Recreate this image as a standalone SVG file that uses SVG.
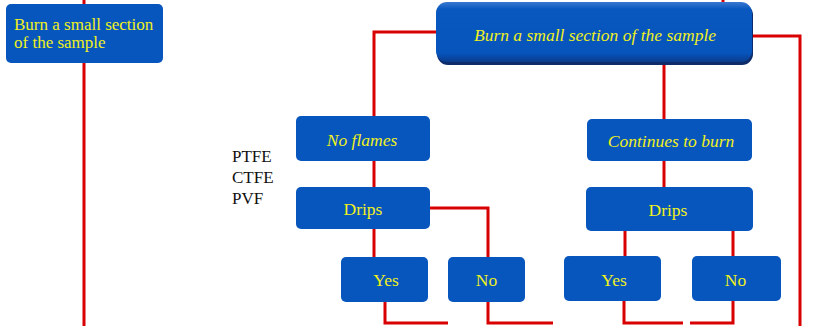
<svg xmlns="http://www.w3.org/2000/svg" width="836" height="326" viewBox="0 0 836 326">
<defs>
<linearGradient id="mainGrad" x1="0" y1="0" x2="0" y2="1">
<stop offset="0" stop-color="#3a78d0"/>
<stop offset="0.12" stop-color="#0858c0"/>
<stop offset="0.85" stop-color="#0654bc"/>
<stop offset="1" stop-color="#0a3c8c"/>
</linearGradient>
</defs>
<style>
.box{fill:#0756be;}
.t{font-family:"Liberation Serif","Times New Roman",serif;font-size:17.5px;fill:#f0f020;}
.s{font-size:17px;}
.i{font-style:italic;}
.c{text-anchor:middle;}
.k{font-family:"Liberation Serif","Times New Roman",serif;font-size:17px;fill:#111111;}
.ln{fill:none;stroke:#d80000;stroke-width:3;}
</style>
<rect width="836" height="326" fill="#ffffff"/>
<g id="connectors">
<path class="ln" d="M84,0 V326"/>
<path class="ln" d="M723,0 V4"/>
<path class="ln" d="M437,32 H374 V117"/>
<path class="ln" d="M751,36 H800 V326"/>
<path class="ln" d="M664,63 V120"/>
<path class="ln" d="M374,160 V188"/>
<path class="ln" d="M374,228 V258"/>
<path class="ln" d="M429,208 H488 V258"/>
<path class="ln" d="M385,301 V323 H448"/>
<path class="ln" d="M488,301 V323 H553"/>
<path class="ln" d="M664,160 V188"/>
<path class="ln" d="M625,230 V257"/>
<path class="ln" d="M733,230 V257"/>
<path class="ln" d="M624,300 V323 H683"/>
<path class="ln" d="M733,300 V323 H690"/>
</g>
<g id="node-left-burn">
<rect class="box" x="6" y="4" width="157" height="59" rx="5"/>
<text class="t s" x="14" y="30">Burn a small section</text>
<text class="t s" x="14" y="48">of the sample</text>
</g>
<g id="node-main-burn">
<rect x="437" y="4" width="316" height="61" rx="11" fill="#0e2c6a"/>
<rect x="436" y="2" width="316" height="60" rx="11" fill="url(#mainGrad)"/>
<text class="t i c" x="595" y="41">Burn a small section of the sample</text>
</g>
<g id="node-no-flames">
<rect class="box" x="296" y="116" width="134" height="45" rx="5"/>
<text class="t i c" x="362" y="146">No flames</text>
</g>
<g id="label-polymers">
<text class="k" x="232" y="162">PTFE</text>
<text class="k" x="232" y="183">CTFE</text>
<text class="k" x="232" y="204">PVF</text>
</g>
<g id="node-drips-left">
<rect class="box" x="296" y="187" width="134" height="42" rx="5"/>
<text class="t c" x="363" y="215">Drips</text>
</g>
<g id="node-yes-left">
<rect class="box" x="341" y="257" width="87" height="45" rx="5"/>
<text class="t c" x="386" y="286">Yes</text>
</g>
<g id="node-no-left">
<rect class="box" x="448" y="257" width="77" height="45" rx="5"/>
<text class="t c" x="486.5" y="286">No</text>
</g>
<g id="node-continues">
<rect class="box" x="587" y="119" width="165" height="42" rx="5"/>
<text class="t i c" x="671" y="147">Continues to burn</text>
</g>
<g id="node-drips-right">
<rect class="box" x="586" y="187" width="167" height="44" rx="5"/>
<text class="t c" x="668" y="216">Drips</text>
</g>
<g id="node-yes-right">
<rect class="box" x="564" y="256" width="97" height="45" rx="5"/>
<text class="t c" x="614" y="286">Yes</text>
</g>
<g id="node-no-right">
<rect class="box" x="692" y="256" width="89" height="45" rx="5"/>
<text class="t c" x="735.5" y="286">No</text>
</g>
</svg>
